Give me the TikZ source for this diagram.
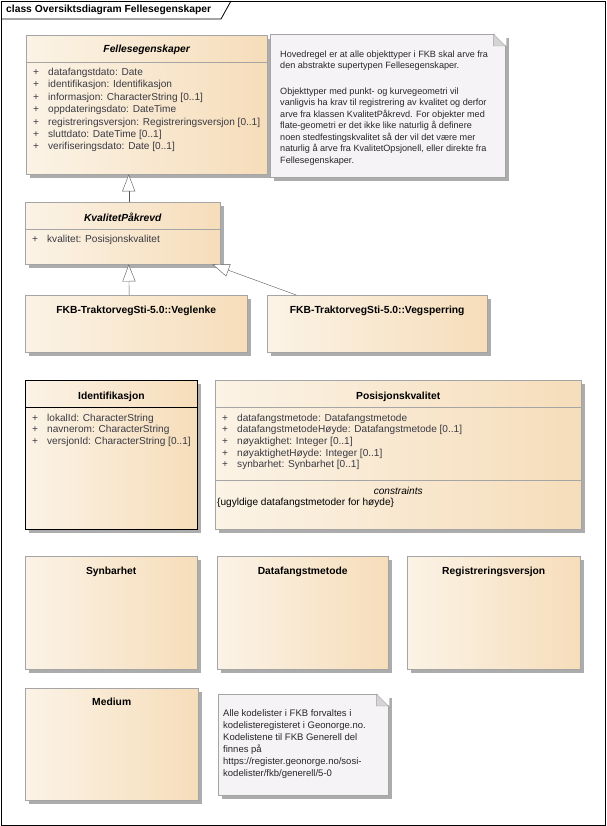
\documentclass[tikz,border=0pt]{standalone}
\usepackage{fontspec}
\setmainfont{Liberation Sans}
\usetikzlibrary{shapes,arrows.meta,positioning,calc,shadows}
\definecolor{eacream}{RGB}{251,243,230}
\definecolor{eatan}{RGB}{246,221,186}
\definecolor{eaborder}{RGB}{165,165,165}
\definecolor{eashadow}{RGB}{172,172,172}
\definecolor{eanote}{RGB}{246,243,247}
\definecolor{eafold}{RGB}{212,212,212}
\definecolor{eatext}{RGB}{58,58,66}
\definecolor{ealine}{RGB}{85,85,85}
\newcommand{\umlplus}{\makebox[15pt][l]{+}}

\begin{document}
\begin{tikzpicture}[
    x=1pt, y=-1pt,
    umlshadow/.style={drop shadow={shadow xshift=4pt, shadow yshift=-4pt, fill=eashadow, opacity=1}},
    classbox/.style={rectangle, draw=eaborder, left color=eacream, right color=eatan, anchor=north west, inner sep=0pt, umlshadow},
    classname/.style={inner sep=0pt, font=\fontsize{10.3}{12}\selectfont\bfseries},
    abstractname/.style={inner sep=0pt, font=\fontsize{10.3}{12}\selectfont\bfseries\itshape},
    attrs/.style={anchor=north west, align=left, inner sep=0pt, text=eatext, font=\fontsize{10.1}{12.4}\selectfont},
    notebox/.style={rectangle, draw=eaborder, fill=eanote, anchor=north west, inner sep=0pt, umlshadow},
    notetext/.style={anchor=north west, align=left, inner sep=0pt, text=black!85, font=\fontsize{9.1}{11.5}\selectfont},
    generalization/.style={draw=ealine, -{Triangle[length=17pt, width=13pt, fill=white]}}
]
\useasboundingbox (0,0) rectangle (606,826);

% Diagram frame
\node[draw, line width=0.8pt, anchor=north west, minimum width=604, minimum height=824, inner sep=0pt] (frame) at (1,1) {};
\node[anchor=west, inner sep=0pt, font=\fontsize{10.3}{12}\selectfont\bfseries] (diagname) at (6,10) {class Oversiktsdiagram Fellesegenskaper};
\draw[line width=0.8pt] ($(frame.north west)+(0,18)$) -- ++(220,0) -- ($(frame.north west)+(230,0)$);

% Fellesegenskaper
\node[classbox, minimum width=241, minimum height=139] (felles) at (26,35) {};
\node[abstractname] (fellesname) at ($(felles.north)+(0,15)$) {Fellesegenskaper};
\draw[eaborder] ($(felles.north west)+(0,27)$) -- ($(felles.north east)+(0,27)$);
\node[attrs] (fellesattr) at ($(felles.north west)+(7,33)$) {\umlplus datafangstdato: Date\\
\umlplus identifikasjon: Identifikasjon\\
\umlplus informasjon: CharacterString [0..1]\\
\umlplus oppdateringsdato: DateTime\\
\umlplus registreringsversjon: Registreringsversjon [0..1]\\
\umlplus sluttdato: DateTime [0..1]\\
\umlplus verifiseringsdato: Date [0..1]};

% Note about inheritance
\node[notebox, minimum width=235, minimum height=143] (hovednote) at (270,34) {};
\fill[white] ($(hovednote.north east)+(-12,-1)$) -- ($(hovednote.north east)+(1,-1)$) -- ($(hovednote.north east)+(1,12)$) -- cycle;
\draw[eaborder, fill=eafold] ($(hovednote.north east)+(-12,0)$) -- ($(hovednote.north east)+(-12,12)$) -- ($(hovednote.north east)+(0,12)$) -- cycle;
\node[notetext] (hovedtext) at ($(hovednote.north west)+(10,16.5)$) {Hovedregel er at alle objekttyper i FKB skal arve fra\\
den abstrakte supertypen Fellesegenskaper.\\[14pt]
Objekttyper med punkt- og kurvegeometri vil\\
vanligvis ha krav til registrering av kvalitet og derfor\\
arve fra klassen KvalitetPåkrevd. For objekter med\\
flate-geometri er det ikke like naturlig å definere\\
noen stedfestingskvalitet så der vil det være mer\\
naturlig å arve fra KvalitetOpsjonell, eller direkte fra\\
Fellesegenskaper.};

% KvalitetPåkrevd
\node[classbox, minimum width=195, minimum height=62] (kvalitet) at (25,202) {};
\node[abstractname] (kvalitetname) at ($(kvalitet.north)+(0,15)$) {KvalitetPåkrevd};
\draw[eaborder] ($(kvalitet.north west)+(0,27)$) -- ($(kvalitet.north east)+(0,27)$);
\node[attrs] (kvalitetattr) at ($(kvalitet.north west)+(7,33)$) {\umlplus kvalitet: Posisjonskvalitet};

% Subtypes
\node[classbox, minimum width=222, minimum height=57] (veglenke) at (25,295) {};
\node[classname] (veglenkename) at ($(veglenke.north)+(0,16)$) {FKB-TraktorvegSti-5.0::Veglenke};
\node[classbox, minimum width=220, minimum height=57] (vegsperring) at (267,295) {};
\node[classname] (vegsperringname) at ($(vegsperring.north)+(0,16)$) {FKB-TraktorvegSti-5.0::Vegsperring};

% Generalizations
\draw[generalization] ([xshift=6pt]kvalitet.north) -- ([xshift=-18pt]felles.south);
\draw[generalization] ([xshift=-7pt]veglenke.north) -- ([xshift=6pt]kvalitet.south);
\draw[generalization] ([xshift=-81pt]vegsperring.north) -- ([xshift=-8pt]kvalitet.south east);

% Identifikasjon
\node[classbox, draw=black, line width=0.8pt, minimum width=172, minimum height=149] (ident) at (25,380) {};
\node[classname] (identname) at ($(ident.north)+(0,16.5)$) {Identifikasjon};
\draw[black, line width=0.8pt] ($(ident.north west)+(0,27)$) -- ($(ident.north east)+(0,27)$);
\node[attrs, font=\fontsize{10.1}{11.7}\selectfont] (identattr) at ($(ident.north west)+(7,33.5)$) {\umlplus lokalId: CharacterString\\
\umlplus navnerom: CharacterString\\
\umlplus versjonId: CharacterString [0..1]};

% Posisjonskvalitet
\node[classbox, minimum width=366, minimum height=149] (posisjon) at (215,380) {};
\node[classname] (posisjonname) at ($(posisjon.north)+(0,16.5)$) {Posisjonskvalitet};
\draw[eaborder] ($(posisjon.north west)+(0,27)$) -- ($(posisjon.north east)+(0,27)$);
\node[attrs, font=\fontsize{10.1}{11.7}\selectfont] (posisjonattr) at ($(posisjon.north west)+(7,33.5)$) {\umlplus datafangstmetode: Datafangstmetode\\
\umlplus datafangstmetodeHøyde: Datafangstmetode [0..1]\\
\umlplus nøyaktighet: Integer [0..1]\\
\umlplus nøyaktighetHøyde: Integer [0..1]\\
\umlplus synbarhet: Synbarhet [0..1]};
\draw[eaborder] ($(posisjon.north west)+(0,100)$) -- ($(posisjon.north east)+(0,100)$);
\node[inner sep=0pt, font=\fontsize{10.1}{12}\selectfont\itshape] (posisjonconhead) at ($(posisjon.north)+(0,111)$) {constraints};
\node[attrs, anchor=west, text=black] (posisjoncon) at ($(posisjon.north west)+(2,123)$) {\{ugyldige datafangstmetoder for høyde\}};

% Code lists
\node[classbox, minimum width=172, minimum height=113] (synbarhet) at (25,556) {};
\node[classname] (synbarhetname) at ($(synbarhet.north)+(0,16)$) {Synbarhet};
\node[classbox, minimum width=171, minimum height=113] (datafangst) at (217,556) {};
\node[classname] (datafangstname) at ($(datafangst.north)+(0,16)$) {Datafangstmetode};
\node[classbox, minimum width=173, minimum height=113] (regversjon) at (407,556) {};
\node[classname] (regversjonname) at ($(regversjon.north)+(0,16)$) {Registreringsversjon};
\node[classbox, minimum width=173, minimum height=112] (medium) at (25,688) {};
\node[classname] (mediumname) at ($(medium.north)+(0,14)$) {Medium};

% Note about code lists
\node[notebox, minimum width=170, minimum height=101] (kodenote) at (218,694) {};
\fill[white] ($(kodenote.north east)+(-12,-1)$) -- ($(kodenote.north east)+(1,-1)$) -- ($(kodenote.north east)+(1,12)$) -- cycle;
\draw[eaborder, fill=eafold] ($(kodenote.north east)+(-12,0)$) -- ($(kodenote.north east)+(-12,12)$) -- ($(kodenote.north east)+(0,12)$) -- cycle;
\node[notetext, font=\fontsize{9.5}{11.9}\selectfont] (kodetext) at ($(kodenote.north west)+(5,15.5)$) {Alle kodelister i FKB forvaltes i\\
kodelisteregisteret i Geonorge.no.\\
Kodelistene til FKB Generell del\\
finnes på\\
https://register.geonorge.no/sosi-\\
kodelister/fkb/generell/5-0};

\end{tikzpicture}
\end{document}
